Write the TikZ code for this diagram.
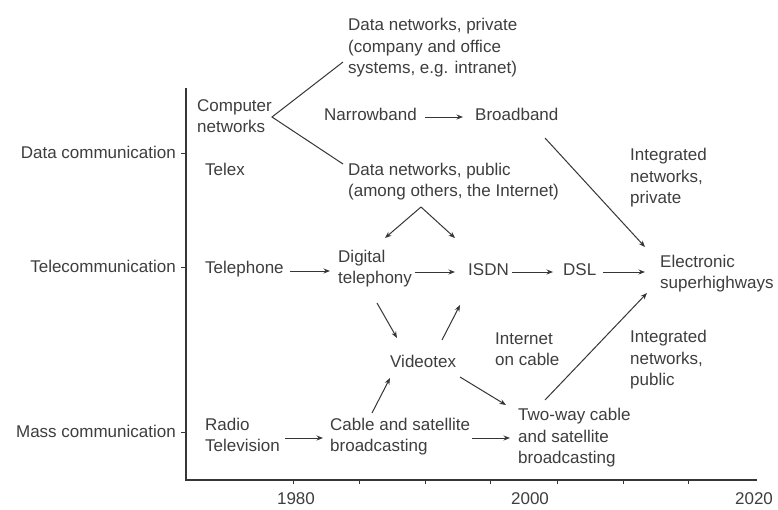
\documentclass[tikz,border=0pt]{standalone}
\usepackage{fontspec}
\setmainfont{Liberation Sans}
\usetikzlibrary{arrows.meta}
\definecolor{txt}{HTML}{3e3e3e}
\definecolor{ln}{HTML}{363636}
\begin{document}
\begin{tikzpicture}[x=1pt,y=-1pt,
  lbl/.style={anchor=base west, inner sep=0pt, align=left, text=txt, font=\fontsize{17}{21.3}\selectfont},
  axl/.style={anchor=base east, inner sep=0pt, text=txt, font=\fontsize{17}{21.3}\selectfont},
  yrl/.style={anchor=base, inner sep=0pt, text=txt, font=\fontsize{17}{21.3}\selectfont},
  con/.style={draw=ln, line width=1pt},
  arr/.style={con, -{Stealth[length=6.5pt,width=5pt]}},
  axis/.style={draw=ln, line width=1.1pt}]
\useasboundingbox (0,0) rectangle (778,509);
\fill[white] (0,0) rectangle (778,509);

% axes
\coordinate (o) at (186,480);
\coordinate (top) at (186,88);
\coordinate (right) at (757,480);
\draw[axis] (top) -- (o) -- (right);
\foreach \x in {293,359,425,490,557,623,688}
  \draw[con] (\x,480) -- (\x,484);
\foreach \y in {153,267,432}
  \draw[con] (181,\y) -- (186,\y);

% axis labels
\node[axl] (ldata) at (176,158.5) {Data communication};
\node[axl] (ltele) at (176,272.5) {Telecommunication};
\node[axl] (lmass) at (176,437.5) {Mass communication};
\node[yrl] (y1980) at (296,504) {1980};
\node[yrl] (y2000) at (530,504) {2000};
\node[yrl] (y2020) at (754,504) {2020};

% nodes (anchor = baseline of the last line)
\node[lbl] (dnpriv) at (348,73.5) {Data networks, private\\(company and office\\systems, e.g. intranet)};
\node[lbl] (comp) at (197,132.5) {Computer\\networks};
\node[lbl] (narrow) at (324,120.5) {Narrowband};
\node[lbl] (broad) at (475,120.5) {Broadband};
\node[lbl] (telex) at (205,175.5) {Telex};
\node[lbl] (dnpub) at (348,196.5) {Data networks, public\\(among others, the Internet)};
\node[lbl] (intpriv) at (630,203.5) {Integrated\\networks,\\private};
\node[lbl] (telephone) at (205,273.5) {Telephone};
\node[lbl] (digital) at (338,283.5) {Digital\\telephony};
\node[lbl] (isdn) at (468,275.5) {ISDN};
\node[lbl] (dsl) at (563,275.5) {DSL};
\node[lbl] (elec) at (660,288.5) {Electronic\\superhighways};
\node[lbl] (videotex) at (390,367.5) {Videotex};
\node[lbl] (inetcable) at (495,365.5) {Internet\\on cable};
\node[lbl] (intpub) at (630,385.5) {Integrated\\networks,\\public};
\node[lbl] (radio) at (205,451.5) {Radio\\Television};
\node[lbl] (cable) at (330,451.5) {Cable and satellite\\broadcasting};
\node[lbl] (twoway) at (518,463.5) {Two-way cable\\and satellite\\broadcasting};

% connectors
\draw[con] ([shift={(-5,-11.5)}]dnpriv.base west) -- ([shift={(75,-15.5)}]comp.base west) -- ([shift={(-5,-32.5)}]dnpub.base west);
\draw[arr] ([shift={(101,-3.5)}]narrow.base west) -- ([shift={(-12,-3.5)}]broad.base west);
\draw[arr] ([shift={(73,10.5)}]dnpub.base west) -- ([shift={(47,-45.5)}]digital.base west);
\draw[arr] ([shift={(73,10.5)}]dnpub.base west) -- ([shift={(-13,-37.5)}]isdn.base west);
\draw[arr] ([shift={(70,17.5)}]broad.base west) -- ([shift={(-15,-41.5)}]elec.base west);
\draw[arr] ([shift={(85,-2.5)}]telephone.base west) -- ([shift={(-8,-12.5)}]digital.base west);
\draw[arr] ([shift={(77,-11.5)}]digital.base west) -- ([shift={(-13,-3.5)}]isdn.base west);
\draw[arr] ([shift={(44,-3.5)}]isdn.base west) -- ([shift={(-10,-3.5)}]dsl.base west);
\draw[arr] ([shift={(40,-3.5)}]dsl.base west) -- ([shift={(-15,-16.5)}]elec.base west);
\draw[arr] ([shift={(39,19.5)}]digital.base west) -- ([shift={(7,-29.5)}]videotex.base west);
\draw[arr] ([shift={(52,-27.5)}]videotex.base west) -- ([shift={(-8,29.5)}]isdn.base west);
\draw[arr] ([shift={(42,-38.5)}]cable.base west) -- ([shift={(0,10.5)}]videotex.base west);
\draw[arr] ([shift={(70,9.5)}]videotex.base west) -- ([shift={(-12,-58.5)}]twoway.base west);
\draw[arr] ([shift={(27,-63.5)}]twoway.base west) -- ([shift={(-13,4.5)}]elec.base west);
\draw[arr] ([shift={(80,-13.5)}]radio.base west) -- ([shift={(-7,-13.5)}]cable.base west);
\draw[arr] ([shift={(142,-13.5)}]cable.base west) -- ([shift={(-8,-25.5)}]twoway.base west);
\end{tikzpicture}
\end{document}
